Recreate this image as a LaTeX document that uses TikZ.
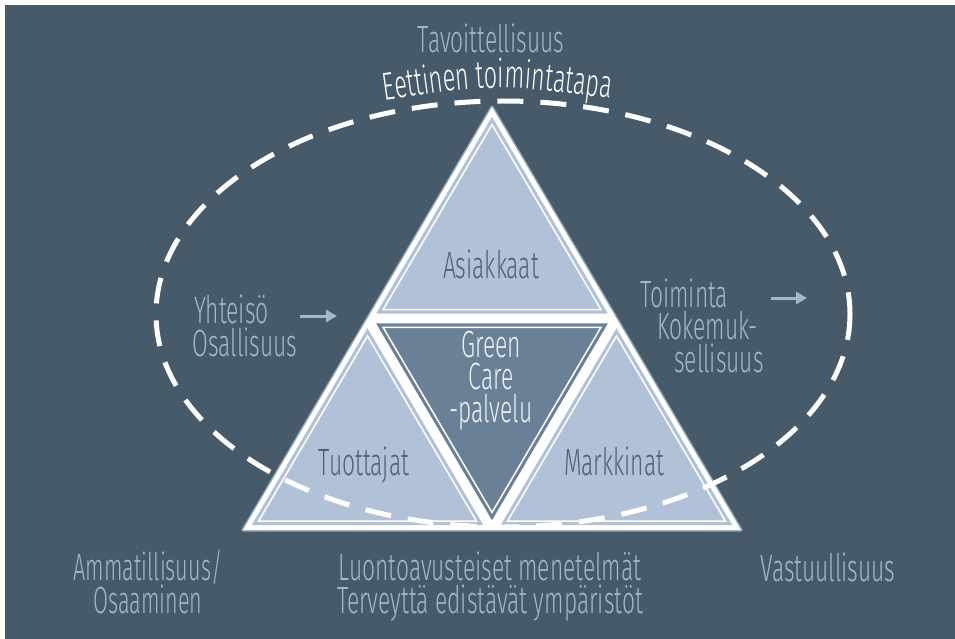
\documentclass[tikz,border=0pt]{standalone}
\usepackage{fontspec}
\usetikzlibrary{calc,arrows.meta,decorations.text}
\newfontfamily\cond[FakeStretch=0.6]{Fira Sans Light}
\definecolor{bgc}{HTML}{465A6A}
\definecolor{lighttext}{HTML}{A3B8CD}
\definecolor{subfill}{HTML}{B1C1D7}
\definecolor{centerfill}{HTML}{6A8097}
\definecolor{darktext}{HTML}{4E6275}
\definecolor{centertext}{HTML}{EEF2F6}
\definecolor{halo}{HTML}{94A8BC}
\newcommand\mysubtri[5]{%
  \fill[#5] ($(#1)!0.93!(#2)$) -- ($(#1)!0.93!(#3)$) -- ($(#1)!0.93!(#4)$) -- cycle;
  \draw[white, line width=1.5pt, line join=miter] ($(#1)!0.875!(#2)$) -- ($(#1)!0.875!(#3)$) -- ($(#1)!0.875!(#4)$) -- cycle;
}
\begin{document}
\begin{tikzpicture}[x=1pt,y=-1pt,
  lbl/.style={font=\cond\fontsize{38}{32.5}\selectfont, inner sep=0pt, anchor=base, align=center},
  lightlbl/.style={lbl, text=lighttext},
  darklbl/.style={lbl, text=darktext},
  arr/.style={draw=lighttext, line width=3pt, -{Triangle[length=11pt,width=12pt]}},
  dashring/.style={draw=white, line width=5pt, dash pattern=on 26pt off 17pt}]
\useasboundingbox (0,0) rectangle (955,639);
\fill[white] (0,0) rectangle (955,639);
\fill[bgc] (5,5) rectangle (955,639);

% triangle geometry
\coordinate (A) at (492,107);
\coordinate (B) at (243,530);
\coordinate (C) at (741,530);
\coordinate (mAB) at ($(A)!0.5!(B)$);
\coordinate (mAC) at ($(A)!0.5!(C)$);
\coordinate (mBC) at ($(B)!0.5!(C)$);
\coordinate (It) at (492,247.3);
\coordinate (Il) at (367.5,458.8);
\coordinate (Ir) at (616.5,458.8);
\coordinate (Ic) at (492,389.7);

\draw[halo, line width=3pt, line join=round] (A) -- (B) -- (C) -- cycle;
\fill[white] (A) -- (B) -- (C) -- cycle;
\mysubtri{It}{A}{mAB}{mAC}{subfill}
\mysubtri{Il}{mAB}{B}{mBC}{subfill}
\mysubtri{Ir}{mAC}{mBC}{C}{subfill}
\mysubtri{Ic}{mAB}{mAC}{mBC}{centerfill}

% texts inside triangles
\node[darklbl] (asi) at (491,278) {Asiakkaat};
\node[darklbl] (tuo) at (364,475) {Tuottajat};
\node[darklbl] (mar) at (614,475) {Markkinat};
\node[lbl, text=centertext] (gc) at (491,422) {Green\\Care\\-palvelu};

% dashed ellipse
\draw[dashring] (503,314) ellipse [x radius=347, y radius=213];

% outer texts
\node[lightlbl] (tav) at (491,53) {Tavoittellisuus};
\path[decorate, decoration={text along path, text align=center, text color=white,
  text={|\cond\fontsize{39}{39}\selectfont|Eettinen toimintatapa}}]
  (378,101) .. controls (497,84) .. (617,99);

\node[lightlbl, anchor=base west, align=left] (yht) at (194,356) {Yhteisö\\\hspace*{-1.5pt}Osallisuus};
\node[lightlbl, anchor=base west, align=left] (toi) at (640,372)
  {Toiminta\\\hspace*{17pt}Kokemuk-\\\hspace*{34pt}sellisuus};

\coordinate (a1s) at (300,316);
\coordinate (a1e) at (337,316);
\coordinate (a2s) at (771,298);
\coordinate (a2e) at (807,298);
\draw[arr] (a1s) -- (a1e);
\draw[arr] (a2s) -- (a2e);

\node[lightlbl] (amm) at (148,613) {\addfontfeature{FakeStretch=0.57}Ammatillisuus/\\\addfontfeature{FakeStretch=0.57}Osaaminen};
\node[lightlbl] (luo) at (490,613) {Luontoavusteiset menetelmät\\Terveyttä edistävät ympäristöt};
\node[lightlbl] (vas) at (828,581) {Vastuullisuus};
\end{tikzpicture}
\end{document}
